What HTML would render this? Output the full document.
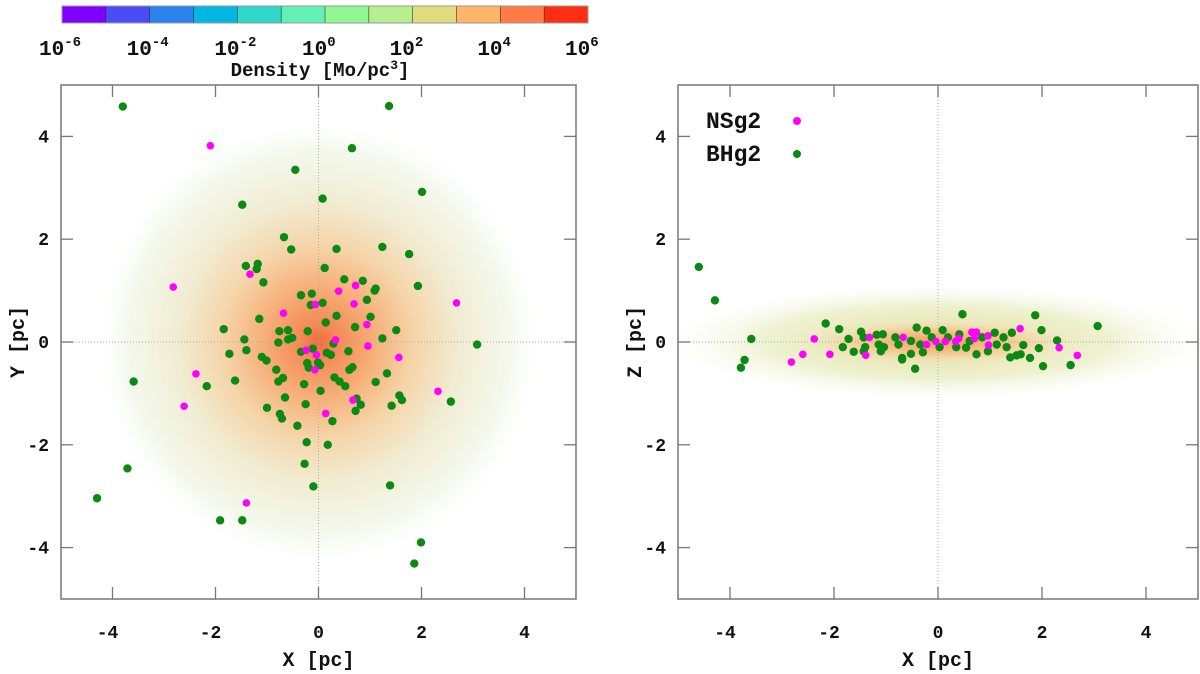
<!DOCTYPE html>
<html><head><meta charset="utf-8"><style>
body{margin:0;background:#fff;width:1200px;height:674px;overflow:hidden}
svg{display:block}
text{font-family:"Liberation Mono",monospace;font-weight:bold;fill:#111}
</style></head><body>
<svg id="c" width="1200" height="674">
<defs>
<radialGradient id="gL" cx="50%" cy="50%" r="50%">
<stop offset="0" stop-color="#f26a3a"/><stop offset="0.08" stop-color="#f48a55"/>
<stop offset="0.25" stop-color="#f7b07a"/><stop offset="0.42" stop-color="#f5d4a8"/>
<stop offset="0.62" stop-color="#f1ecd2"/><stop offset="0.85" stop-color="#f4f9ee"/><stop offset="1" stop-color="#fff" stop-opacity="0"/>
</radialGradient>
<radialGradient id="gR1" cx="50%" cy="50%" r="50%">
<stop offset="0" stop-color="#f59a60"/><stop offset="0.5" stop-color="#f6c890"/><stop offset="1" stop-color="#f4e8c8" stop-opacity="0"/>
</radialGradient>
<radialGradient id="gR2" cx="50%" cy="50%" r="50%">
<stop offset="0" stop-color="#e6dea0"/><stop offset="0.6" stop-color="#eef2d0"/><stop offset="1" stop-color="#fff" stop-opacity="0"/>
</radialGradient>
</defs>
</svg>
<script>
const greenXY_X=[-3.80,1.37,0.65,-0.45,2.01,0.08,-1.48,-0.67,-0.53,0.35,1.24,1.76,-1.41,-1.18,-1.20,0.12,-1.07,0.50,0.86,1.11,1.09,1.93,-0.34,-0.13,-0.15,0.08,0.94,0.35,1.01,-1.15,0.14,0.71,-1.84,-0.76,-0.59,-0.21,1.51,-1.44,1.24,-0.78,-0.59,-0.51,3.08,-1.40,-1.73,-0.34,-0.11,0.29,0.16,0.24,0.58,-1.10,-1.01,-0.22,-0.01,0.03,-0.19,-0.82,0.60,0.66,1.33,-3.59,-1.62,-0.78,-0.69,0.31,0.41,1.11,-2.17,-0.28,0.52,0.04,-0.65,0.74,1.57,1.62,0.82,-0.25,1.42,2.57,0.72,-1.00,-0.75,-0.71,0.27,-0.41,-0.23,0.18,-0.27,-3.71,-0.10,1.39,-4.30,-1.91,-1.48,1.99,1.86];
const greenXY_Y=[4.58,4.59,3.77,3.35,2.92,2.79,2.67,2.04,1.80,1.81,1.85,1.71,1.48,1.52,1.42,1.44,1.16,1.22,1.19,1.04,1.00,1.09,0.91,0.94,0.72,0.76,0.82,0.51,0.49,0.45,0.38,0.29,0.25,0.21,0.23,0.21,0.23,0.05,0.07,-0.01,0.05,0.08,-0.05,-0.16,-0.23,-0.19,-0.13,-0.03,-0.21,-0.25,-0.18,-0.29,-0.36,-0.41,-0.40,-0.45,-0.50,-0.54,-0.54,-0.49,-0.61,-0.77,-0.75,-0.77,-0.70,-0.69,-0.77,-0.78,-0.86,-0.82,-0.86,-0.95,-1.08,-1.10,-1.04,-1.13,-1.22,-1.21,-1.24,-1.16,-1.34,-1.28,-1.40,-1.49,-1.54,-1.63,-1.95,-2.00,-2.37,-2.46,-2.81,-2.79,-3.04,-3.47,-3.47,-3.90,-4.31];
const magXY_X=[-2.10,-1.33,-2.82,0.39,0.72,-0.06,0.69,2.68,-0.68,0.94,0.33,-0.24,0.96,-0.04,1.56,-0.07,-2.38,2.32,0.67,-2.61,0.14,-1.40];
const magXY_Y=[3.82,1.32,1.07,0.99,1.10,0.73,0.74,0.76,0.56,0.34,0.04,-0.16,-0.08,-0.25,-0.30,-0.54,-0.62,-0.96,-1.13,-1.25,-1.39,-3.13];
const greenXZ_X=[-4.60,-4.29,-3.59,-3.72,-3.79,-2.16,-1.90,-1.72,-1.83,-1.62,-1.48,-1.43,-1.40,-1.43,-1.18,-1.06,-1.14,-1.04,-1.10,-0.82,-0.76,-0.69,-0.69,-0.52,-0.52,-0.41,-0.44,-0.34,-0.29,-0.22,-0.12,0.03,0.09,0.19,0.35,0.47,0.41,0.54,0.61,0.74,0.85,0.96,1.09,1.13,1.26,1.32,1.42,1.39,1.51,1.59,1.64,1.77,1.87,1.94,1.99,2.02,2.29,2.55,3.07];
const greenXZ_Z=[1.46,0.81,0.06,-0.35,-0.50,0.36,0.25,0.06,-0.10,-0.19,0.20,0.09,-0.10,-0.18,0.14,0.15,-0.05,-0.10,-0.18,0.09,-0.05,-0.31,-0.34,0.02,-0.23,0.28,-0.52,-0.05,-0.20,0.22,0.09,-0.10,0.23,0.09,-0.10,0.54,0.15,-0.11,0.02,-0.24,0.09,-0.18,0.18,-0.05,0.09,-0.10,0.18,-0.30,-0.26,-0.24,-0.06,-0.31,0.52,-0.12,0.23,-0.47,0.03,-0.45,0.31];
const magXZ_X=[-2.82,-2.60,-2.38,-2.08,-1.39,-1.32,-0.67,-0.22,-0.04,0.14,0.34,0.40,0.65,0.74,0.70,0.96,0.97,1.58,2.33,2.68];
const magXZ_Z=[-0.39,-0.24,0.06,-0.24,-0.26,0.09,0.09,-0.05,0.01,0.01,0.01,0.07,0.19,0.19,0.07,0.12,-0.06,0.26,-0.11,-0.26];
const tickVals=[-4,-2,0,2,4];
const cbLabels=["-6","-4","-2","0","2","4","6"];
const cbColors=["#7f00ff","#4a4cf6","#2a82ee","#00b6e2","#30d8cc","#62f0b4","#90f892","#b6f08e","#e0dc7c","#ffb466","#ff7c44","#ff2e12"];

const NS="http://www.w3.org/2000/svg", svg=document.getElementById('c');
function el(t,a,p){const e=document.createElementNS(NS,t);for(const k in a)e.setAttribute(k,a[k]);(p||svg).appendChild(e);return e;}

const cbx0=62,cbx1=588,cbw=(cbx1-cbx0)/cbColors.length;
const cbG=el('g',{});


cbColors.forEach((c,i)=>{const r=el('rect',{x:cbx0+i*cbw,y:6,width:cbw+0.5,height:17,fill:c},cbG);


el('line',{x1:cbx0+i*cbw,x2:cbx0+i*cbw,y1:6,y2:23,stroke:'#333','stroke-width':0.6},cbG);});
el('rect',{x:cbx0,y:6,width:cbx1-cbx0,height:17,fill:'none',stroke:'#999'},cbG);
cbLabels.forEach((l,i)=>{const t=el('text',{x:cbx0+i*(cbx1-cbx0)/6-23,y:55,'font-size':21});


t.textContent='10';const s=el('tspan',{dy:-9,'font-size':14},t);s.textContent=l;});
const ct=el('text',{x:320,y:76,'text-anchor':'middle','font-size':19});


ct.textContent='Density [Mo/pc';const ct2=el('tspan',{dy:-7,'font-size':13},ct);ct2.textContent='3';const ct3=el('tspan',{dy:7},ct);ct3.textContent=']';

function panel(name,x0,x1,y0,y1,yl,bg,gx,gy,mx,my,legend){
  const X=v=>x0+(v+5)*(x1-x0)/10, Y=v=>y1-(v+5)*(y1-y0)/10;
  const g=el('g',{});
  
  
  const clip=el('clipPath',{id:'cl'+name},g);el('rect',{x:x0,y:y0,width:x1-x0,height:y1-y0},clip);
  const bgG=el('g',{'clip-path':'url(#cl'+name+')'},g);
  bg(bgG,X,Y);
  el('line',{x1:X(0),x2:X(0),y1:y0,y2:y1,stroke:'#aaa','stroke-dasharray':'1 2','stroke-width':1},g);
  el('line',{x1:x0,x2:x1,y1:Y(0),y2:Y(0),stroke:'#aaa','stroke-dasharray':'1 2','stroke-width':1},g);
  gx.forEach((v,i)=>{const c=el('circle',{cx:X(v),cy:Y(gy[i]),r:4.2,fill:'#0a8a12'},g);
    
    });
  mx.forEach((v,i)=>{const c=el('circle',{cx:X(v),cy:Y(my[i]),r:3.8,fill:'#ff00ff'},g);
    
    });
  el('rect',{x:x0,y:y0,width:x1-x0,height:y1-y0,fill:'none',stroke:'#777','stroke-width':1.5},g);
  tickVals.forEach(v=>{
    el('line',{x1:X(v),x2:X(v),y1:y1,y2:y1-12,stroke:'#777','stroke-width':1.3},g);
    el('line',{x1:X(v),x2:X(v),y1:y0,y2:y0+12,stroke:'#777','stroke-width':1.3},g);
    el('line',{x1:x0,x2:x0+12,y1:Y(v),y2:Y(v),stroke:'#777','stroke-width':1.3},g);
    el('line',{x1:x1,x2:x1-12,y1:Y(v),y2:Y(v),stroke:'#777','stroke-width':1.3},g);
    const tx=el('text',{x:X(v)+(v<0?-5:0),y:y1+39,'text-anchor':'middle','font-size':18},g);
    
    
    tx.textContent=v;
    const ty=el('text',{x:x0-12,y:Y(v)+6,'text-anchor':'end','font-size':18},g);
    
    
    ty.textContent=v;
  });
  const xt=el('text',{x:(x0+x1)/2,y:y1+67,'text-anchor':'middle','font-size':20},g);
  
  
  xt.textContent='X [pc]';
  const yt=el('text',{x:x0-37,y:(y0+y1)/2,'text-anchor':'middle','font-size':20,transform:`rotate(-90 ${x0-37} ${(y0+y1)/2})`},g);
  
  
  yt.textContent=yl;
  if(legend){
    [['NSg2','#ff00ff',128],['BHg2','#0a8a12',161]].forEach(([n,c,y])=>{
      const lg=el('g',{},g);
      
      
      const t=el('text',{x:706,y:y,'font-size':23,'font-family':'Liberation Mono'},lg);t.textContent=n;
      el('circle',{cx:797,cy:y-7,r:4,fill:c},lg);
    });
  }
}
panel('xy-panel',61,576,85,599,'Y [pc]',(g,X,Y)=>{
  const cx=X(0),cy=Y(0),r=X(4.4)-X(0);
  el('rect',{x:cx-r,y:cy-r,width:2*r,height:2*r,fill:'url(#gL)'},g);
},greenXY_X,greenXY_Y,magXY_X,magXY_Y,false);
panel('xz-panel',678,1198,85,599,'Z [pc]',(g,X,Y)=>{
  const cx=X(0),cy=Y(0);
  el('ellipse',{cx:cx,cy:cy,rx:X(5.5)-cx,ry:Y(-1.2)-cy,fill:'url(#gR2)'},g);
  el('ellipse',{cx:cx,cy:cy,rx:X(2.7)-cx,ry:Y(-0.45)-cy,fill:'url(#gR1)'},g);
},greenXZ_X,greenXZ_Z,magXZ_X,magXZ_Z,true);
</script>
</body></html>
